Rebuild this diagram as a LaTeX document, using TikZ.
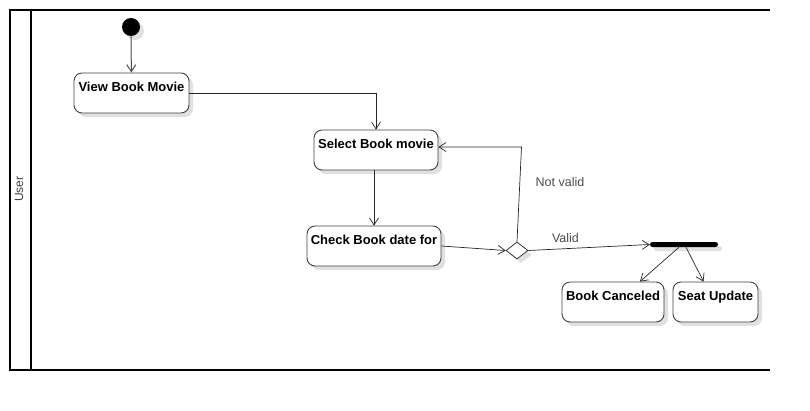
\documentclass[tikz,border=0pt]{standalone}
\usepackage{fontspec}
\setmainfont{Liberation Sans}
\usetikzlibrary{arrows.meta,shapes.geometric,shadows}
\tikzset{
  lane/.style={line width=1.6pt, draw=black},
  shad/.style={drop shadow={shadow xshift=4pt, shadow yshift=-4pt, fill=black!12, opacity=1}},
  act/.style={draw=black!75, rounded corners=8pt, fill=white, line width=0.9pt, minimum height=40pt, inner sep=0pt, shad},
  acttext/.style={anchor=north, font=\bfseries\fontsize{13}{15}\selectfont, inner sep=0pt, yshift=-9pt},
  conn/.style={draw=black!85, line width=0.7pt, -{Straight Barb[length=7pt, width=9pt]}},
  lbl/.style={font=\fontsize{12.5}{14}\selectfont, text=black!70, inner sep=0pt},
}
\begin{document}
\begin{tikzpicture}[x=1pt, y=-1pt]
\useasboundingbox (0,0) rectangle (810,410);
% swimlane
\draw[lane] (770,10) -- (10,10) -- (10,370) -- (770,370);
\draw[lane] (31,10) -- (31,370);
\node[rotate=90, font=\fontsize{12}{14}\selectfont, text=black!75, inner sep=0pt] (user) at (19,189) {User};
% start
\node[circle, fill=black, minimum size=18pt, inner sep=0pt, shad] (start) at (131,27) {};
% activities
\node[act, minimum width=115pt] (view) at (131.5,93) {};
\node[acttext] (viewt) at (view.north) {View Book Movie};
\node[act, minimum width=124pt] (select) at (376,150) {};
\node[acttext] (selectt) at (select.north) {Select Book movie};
\node[act, minimum width=134pt] (check) at (374,246) {};
\node[acttext] (checkt) at (check.north) {Check Book date for};
\node[act, minimum width=102pt] (cancel) at (613,302) {};
\node[acttext] (cancelt) at (cancel.north) {Book Canceled};
\node[act, minimum width=85pt] (seat) at (715.5,302) {};
\node[acttext] (seatt) at (seat.north) {Seat Update};
% decision
\node[diamond, draw=black!85, fill=white, line width=0.7pt, minimum width=22pt, minimum height=17pt, inner sep=0pt, shad] (dec) at (517,250.5) {};
% fork bar
\node[fill=black, minimum width=68pt, minimum height=5pt, inner sep=0pt, rounded corners=2.5pt, shad] (bar) at (684,244.5) {};
% connectors
\draw[conn, draw=black!70, line width=1pt] (start) -- (view);
\draw[conn] (view.east) -| (select.north);
\draw[conn] (check.north |- select.south) -- (check.north);
\draw[conn] (check.east) -- (dec.west);
\coordinate (nv) at (521.5,147);
\draw[conn] (dec.north) -- (nv) -- (select.east |- nv);
\draw[conn] (dec.east) -- (bar.west);
\draw[conn] ([xshift=-5pt]bar.south) -- ([xshift=27pt]cancel.north);
\draw[conn] ([xshift=2pt]bar.south) -- ([xshift=-12pt]seat.north);
% labels
\node[lbl] (nvl) at (560,182) {Not valid};
\node[lbl] (vl) at (565.5,238) {Valid};
\end{tikzpicture}
\end{document}
